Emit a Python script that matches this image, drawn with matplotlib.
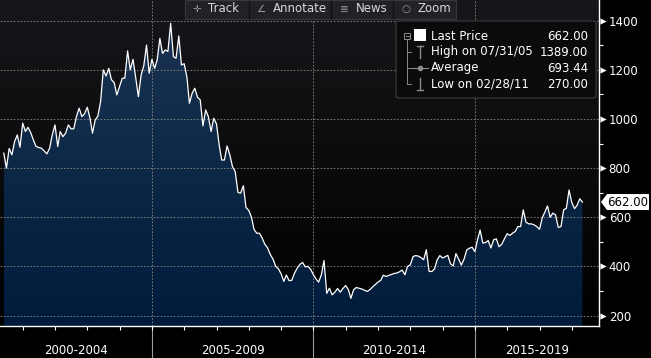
import matplotlib
matplotlib.use('Agg')
import matplotlib.pyplot as plt
import matplotlib.dates as mdates
import numpy as np
import pandas as pd
from matplotlib.patches import Polygon, Rectangle, FancyBboxPatch
from matplotlib.lines import Line2D

# Monthly closes, May 2000 - Apr 2018
dates = pd.date_range('2000-05-31', periods=216, freq='ME')
prices = [
    861, 800, 880, 854, 908, 935, 885, 983, 949, 966, 945, 915,
    888, 884, 881, 870, 858, 881, 935, 976, 888, 949, 928, 942,
    976, 960, 960, 1010, 1044, 1010, 1021, 1048, 1003, 942, 996, 1012,
    1071, 1200, 1175, 1206, 1160, 1148, 1098, 1132, 1166, 1166, 1277, 1200,
    1243, 1170, 1091, 1179, 1216, 1301, 1186, 1243, 1206, 1240, 1328, 1267,
    1281, 1275, 1389, 1254, 1247, 1338, 1220, 1225, 1170, 1064, 1105, 1125,
    1088, 1078, 972, 1037, 1010, 949, 1003, 980, 894, 833, 833, 890,
    854, 806, 786, 701, 698, 728, 640, 628, 600, 550, 535, 535,
    515, 490, 475, 448, 430, 400, 390, 370, 339, 365, 342, 343,
    372, 392, 408, 416, 398, 400, 388, 366, 348, 336, 365, 424,
    290, 311, 284, 295, 310, 295, 310, 322, 305, 270, 305, 314,
    311, 308, 303, 298, 305, 316, 326, 336, 343, 364, 359, 363,
    367, 371, 373, 378, 385, 366, 400, 406, 440, 444, 442, 436,
    427, 468, 380, 379, 389, 427, 444, 434, 440, 445, 410, 402,
    452, 430, 405, 430, 467, 474, 478, 460, 510, 548, 495, 497,
    505, 475, 508, 512, 480, 490, 512, 533, 526, 535, 542, 562,
    562, 630, 580, 573, 573, 569, 562, 551, 598, 620, 646, 600,
    617, 610, 559, 562, 630, 637, 711, 660, 635, 648, 675, 662,
]

legend_labels = ['Last Price', 'High on 07/31/05', 'Average', 'Low on 02/28/11']
legend_values = [662.00, 1389.00, 693.44, 270.00]
last_price = 662.00
period_labels = ['2000-2004', '2005-2009', '2010-2014', '2015-2019']
period_breaks = ['2005-01-01', '2010-01-01', '2015-01-01']
y_ticks = [200, 400, 600, 800, 1000, 1200, 1400]
toolbar = [('✛', 'Track'), ('∠', 'Annotate'), ('≣', 'News'), ('○', 'Zoom')]

W, H = 651, 358
plt.rcParams['font.family'] = ['DejaVu Sans']

def fx(px):
    return px / W

def fy(py):
    return 1 - py / H

fig = plt.figure(figsize=(W / 100, H / 100), dpi=100)
fig.patch.set_facecolor('black')
ax = fig.add_axes([0, 32 / H, 599 / W, 326 / H])
ax.set_facecolor('black')

x = mdates.date2num(dates)
x2005 = mdates.date2num(pd.Timestamp('2005-01-01'))
days_px = 365.25 / 32.3
xmin, xmax = x2005 - 152 * days_px, x2005 + 447 * days_px
ymin, ymax = 157.3, 1484.3

# background gradient
top = np.array([0x17, 0x16, 0x1a]) / 255
bot = np.array([0x00, 0x00, 0x00]) / 255
t = np.linspace(0, 1, 256)[:, None, None]
ax.imshow(top * (1 - t) + bot * t, extent=[0, 1, 0, 1], transform=ax.transAxes,
          aspect='auto', zorder=0)

# area fill gradient clipped to the price area
ftop = np.array([0x1a, 0x33, 0x52]) / 255
fbot = np.array([0x00, 0x1b, 0x3b]) / 255
im = ax.imshow(ftop * (1 - t) + fbot * t, extent=[x[0], x[-1], ymin, 1400],
               aspect='auto', zorder=1)
clip = Polygon(np.column_stack([np.r_[x[0], x, x[-1]], np.r_[ymin, prices, ymin]]),
               closed=True, facecolor='none', edgecolor='none')
ax.add_patch(clip)
im.set_clip_path(clip)

ax.plot(x, prices, color='white', lw=0.9, zorder=3)

ax.set_xlim(xmin, xmax)
ax.set_ylim(ymin, ymax)

# grid
ax.set_axisbelow(False)
ax.set_yticks(y_ticks)
ax.set_yticks(np.arange(300, 1400, 200), minor=True)
ax.grid(axis='y', which='major', color='#8a8a8a', ls=(0, (2, 2)), lw=0.6)
for b in period_breaks:
    xb = mdates.date2num(pd.Timestamp(b))
    ax.axvline(xb, color='#8a8a8a', ls=(0, (2, 2)), lw=0.6, zorder=2.5)
    ax.plot([xb, xb], [0, -32 / 326], transform=ax.get_xaxis_transform(),
            color='#9a9a9a', lw=0.8, clip_on=False)

for s in ['left', 'top']:
    ax.spines[s].set_visible(False)
for s in ['right', 'bottom']:
    ax.spines[s].set_color('white')
    ax.spines[s].set_linewidth(1)

# x axis: yearly ticks, period labels
ax.xaxis.set_major_locator(mdates.YearLocator(1))
ax.tick_params(axis='x', which='major', length=3, width=0.8, color='white',
               labelbottom=False)
edges = [xmin] + [mdates.date2num(pd.Timestamp(b)) for b in period_breaks] + [xmax]
for lab, a, b in zip(period_labels, edges[:-1], edges[1:]):
    ax.text((a + b) / 2, -24 / 326, lab, transform=ax.get_xaxis_transform(),
            ha='center', va='center', color='white', fontsize=8.5)

# y axis on the right
ax.yaxis.tick_right()
ax.tick_params(axis='y', which='major', length=0, pad=7, labelcolor='white',
               labelsize=8.5)
ax.tick_params(axis='y', which='minor', length=3, width=0.8, color='white')
ax.scatter([1 + 4 / 599] * len(y_ticks), y_ticks, marker='>', s=20, color='white',
           transform=ax.get_yaxis_transform(), clip_on=False, zorder=5, linewidths=0)

# last price tag
fig.canvas.draw()
yp = ax.transData.transform((x[-1], last_price))[1]
tag = Polygon([(601, yp), (607, yp + 8), (649, yp + 8), (649, yp - 8), (607, yp - 8)],
              closed=True, facecolor='white', edgecolor='none',
              transform=matplotlib.transforms.IdentityTransform())
fig.add_artist(tag)
fig.text(fx(628), yp / H, f'{last_price:.2f}', color='black', fontsize=8.5,
         ha='center', va='center')

# toolbar
fig.add_artist(Rectangle((fx(185), fy(19)), fx(271), 19 / H, transform=fig.transFigure,
                         facecolor='#232125', edgecolor='#3a383c', lw=0.8))
tb_icon = [197, 261, 344, 406]
tb_text = [208, 273, 356, 418]
for (ic, tx), xi, xt in zip(toolbar, tb_icon, tb_text):
    fig.text(fx(xi), fy(9), ic, color='#9a9a9a', fontsize=7.5, ha='center', va='center')
    fig.text(fx(xt), fy(9), tx, color='#d8d8d8', fontsize=8.5, ha='left', va='center')
for sx in [249, 331, 393]:
    fig.add_artist(Line2D([fx(sx), fx(sx)], [fy(1), fy(18)], color='#121014', lw=1))

# legend box
fig.add_artist(FancyBboxPatch((fx(396), fy(98)), fx(200), 77 / H,
                              boxstyle='round,pad=0,rounding_size=0.006',
                              transform=fig.transFigure, facecolor='#0b0b0c',
                              edgecolor='#3c3c3c', lw=0.8))
rows = [36, 52, 68, 84]
for lab, val, ry in zip(legend_labels, legend_values, rows):
    fig.text(fx(431), fy(ry), lab, color='white', fontsize=8.5, ha='left', va='center')
    fig.text(fx(588), fy(ry), f'{val:.2f}', color='white', fontsize=8.5,
             ha='right', va='center')
g = '#8a8a8a'
fig.add_artist(Rectangle((fx(404), fy(39)), fx(6), 6 / H, transform=fig.transFigure,
                         facecolor='none', edgecolor=g, lw=0.7))
fig.add_artist(Line2D([fx(405.5), fx(408.5)], [fy(36), fy(36)], color=g, lw=0.7))
fig.add_artist(Line2D([fx(407), fx(407)], [fy(40), fy(84)], color=g, lw=0.7))
for ry in rows[1:]:
    fig.add_artist(Line2D([fx(407), fx(411)], [fy(ry), fy(ry)], color=g, lw=0.7))
fig.add_artist(Rectangle((fx(414), fy(41)), fx(12), 12 / H, transform=fig.transFigure,
                         facecolor='white', edgecolor='none'))
fig.add_artist(Line2D([fx(420), fx(420)], [fy(46), fy(58)], color=g, lw=1))
fig.add_artist(Line2D([fx(417), fx(423)], [fy(46), fy(46)], color=g, lw=1))
fig.add_artist(Line2D([fx(412), fx(428)], [fy(68), fy(68)], color=g, lw=0.8))
fig.add_artist(Line2D([fx(420)], [fy(68)], color=g, marker='o', ms=3, lw=0))
fig.add_artist(Line2D([fx(420), fx(420)], [fy(78), fy(90)], color=g, lw=1))
fig.add_artist(Line2D([fx(417), fx(423)], [fy(90), fy(90)], color=g, lw=1))

fig.savefig('out.png', dpi=100, facecolor='black')
